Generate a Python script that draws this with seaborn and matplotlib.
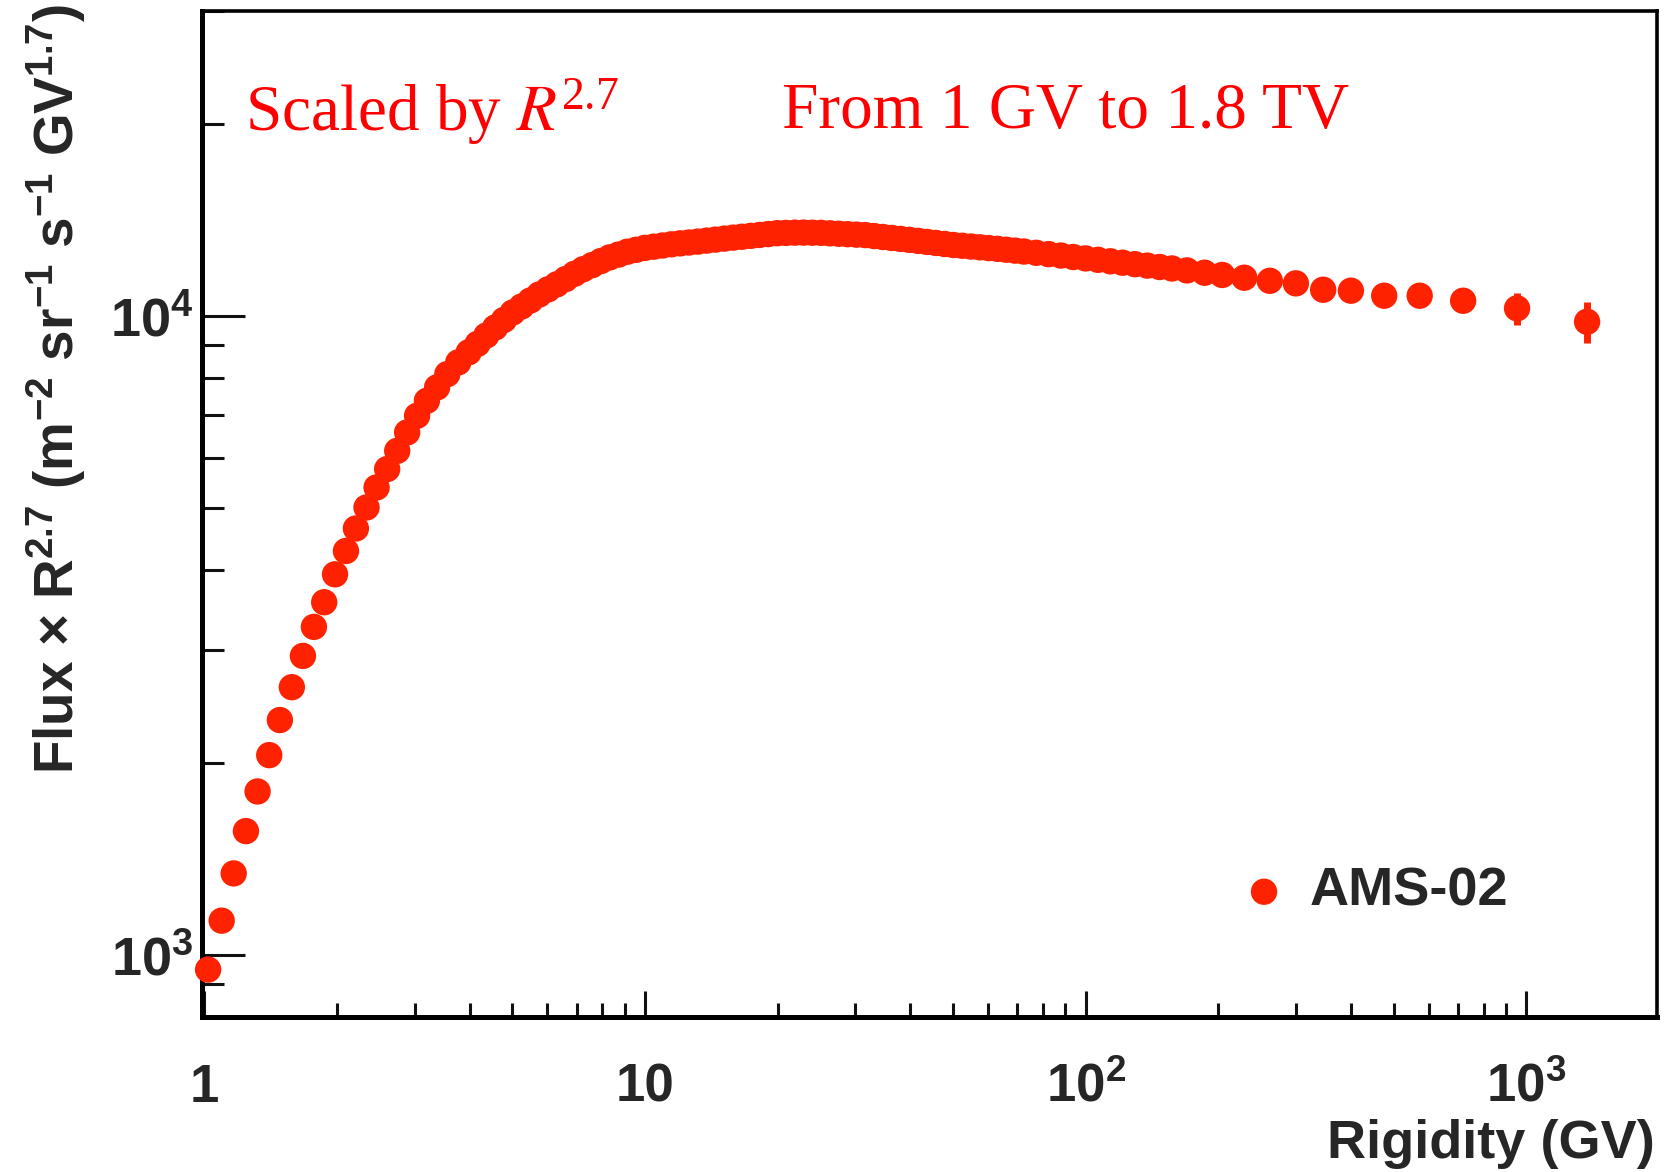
import matplotlib
matplotlib.use("Agg")
import matplotlib.pyplot as plt
import pandas as pd
import seaborn as sns
from matplotlib.ticker import FixedLocator, FixedFormatter, LogLocator, NullFormatter

# AMS-02 proton flux multiplied by R^2.7, rigidity in GV
rigidity = [
    1.02, 1.095, 1.166, 1.243, 1.321, 1.404, 1.484, 1.58, 1.674, 1.773,
    1.871, 1.98, 2.096, 2.208, 2.334, 2.46, 2.60, 2.74, 2.886, 3.04,
    3.20, 3.375, 3.56, 3.77,
    3.981, 4.169, 4.365, 4.571, 4.786, 5.012, 5.248, 5.495, 5.754, 6.026,
    6.310, 6.607, 6.918, 7.244, 7.586, 7.943, 8.318, 8.710, 9.120, 9.550,
    10.00, 10.47, 10.96, 11.48, 12.02, 12.59, 13.18, 13.80, 14.45, 15.14,
    15.85, 16.60, 17.38, 18.20, 19.05, 19.95, 20.89, 21.88, 22.91, 23.99,
    25.12, 26.30, 27.54, 28.84, 30.20, 31.62, 33.11, 34.67, 36.31, 38.02,
    39.81, 41.69, 43.65, 45.71, 47.86, 50.12, 52.48, 54.95, 57.54, 60.26,
    63.10, 66.07, 69.18, 72.44,
    77.27, 82.41, 87.90, 93.76, 100.0, 106.7, 113.8, 121.3, 129.4, 138.0,
    147.2, 157.0, 169.8, 186.2, 204.2, 229.1, 261.8,
    300, 346, 400, 476, 573, 719, 953, 1374,
]
flux_scaled = [
    949, 1132, 1342, 1563, 1803, 2055, 2332, 2625, 2938, 3262,
    3565, 3942, 4288, 4650, 5016, 5391, 5760, 6151, 6573, 6980,
    7367, 7732, 8110, 8460,
    8774, 9043, 9320, 9592, 9856, 10127, 10347, 10573, 10802, 11005,
    11207, 11421, 11639, 11836, 12010, 12187, 12349, 12474, 12604, 12691,
    12779, 12835, 12889, 12945, 12990, 13029, 13071, 13119, 13165, 13213,
    13259, 13302, 13345, 13388, 13431, 13474, 13487, 13499, 13502, 13496,
    13490, 13468, 13446, 13425, 13403, 13382, 13336, 13290, 13244, 13198,
    13153, 13105, 13056, 13008, 12960, 12912, 12877, 12841, 12806, 12770,
    12735, 12694, 12653, 12612,
    12554, 12494, 12431, 12365, 12303, 12241, 12176, 12114, 12050, 11989,
    11928, 11865, 11783, 11685, 11591, 11477, 11350,
    11246, 10990, 10952, 10756, 10756, 10563, 10278, 9793,
]
# uncertainties of the highest-rigidity points (elsewhere hidden by the markers)
n_err = 8
flux_err_high = [160, 180, 200, 230, 270, 350, 590, 720]

x_ticks = [1, 10, 100, 1000]
x_tick_labels = ["1", "10", "$10^{2}$", "$10^{3}$"]
y_ticks = [1000, 10000]
y_tick_labels = ["$10^{3}$", "$10^{4}$"]

RED = "#ff2200"

sns.set_style("ticks")
plt.rcParams["font.family"] = ["Liberation Sans", "DejaVu Sans"]
plt.rcParams["mathtext.default"] = "regular"

fig = plt.figure(figsize=(16.69, 11.72), dpi=100)
ax = fig.add_axes([0.12103, 0.13225, 0.87178, 0.85836])
ax.set_xscale("log")
ax.set_yscale("log")

df = pd.DataFrame({"Rigidity": rigidity, "Flux": flux_scaled})
sns.scatterplot(data=df, x="Rigidity", y="Flux", ax=ax, s=360, color=RED,
                edgecolor="none", linewidth=0, label="AMS-02", zorder=3,
                clip_on=False)
ax.errorbar(rigidity[-n_err:], flux_scaled[-n_err:], yerr=flux_err_high,
            fmt="none", ecolor=RED, elinewidth=5, capsize=0, zorder=2)

ax.set_xlim(0.988, 1980)
ax.set_ylim(800, 30000)

ax.xaxis.set_major_locator(FixedLocator(x_ticks))
ax.xaxis.set_major_formatter(FixedFormatter(x_tick_labels))
ax.yaxis.set_major_locator(FixedLocator(y_ticks))
ax.yaxis.set_major_formatter(FixedFormatter(y_tick_labels))
ax.xaxis.set_minor_locator(LogLocator(base=10, subs=range(2, 10), numticks=20))
ax.yaxis.set_minor_locator(LogLocator(base=10, subs=range(2, 10), numticks=20))
ax.xaxis.set_minor_formatter(NullFormatter())
ax.yaxis.set_minor_formatter(NullFormatter())

ax.tick_params(axis="both", which="both", direction="in", top=False,
               right=False, color="#111111", width=2.2)
ax.tick_params(axis="y", which="major", length=31, pad=6, labelsize=39)
ax.tick_params(axis="y", which="minor", length=16)
ax.tick_params(axis="x", which="major", length=19, pad=61, labelsize=38)
ax.tick_params(axis="x", which="minor", length=10)
for t in ax.xaxis.get_major_ticks():
    t.label1.set_verticalalignment("baseline")
    t.label1.set_fontweight("bold")
for t in ax.yaxis.get_major_ticks():
    t.label1.set_fontweight("bold")

for side in ("left", "bottom"):
    ax.spines[side].set_linewidth(3.6)
    ax.spines[side].set_color("black")
for side in ("top", "right"):
    ax.spines[side].set_linewidth(2.6)
    ax.spines[side].set_color("black")

ax.set_xlabel("")
ax.set_ylabel("")
fig.text(0.9916, 0.0119, "Rigidity (GV)", ha="right", va="baseline",
         fontsize=39, fontweight="bold")
fig.text(0.0335, 0.9966,
         "Flux × R$^{2.7}$ (m$^{-2}$ sr$^{-1}$ s$^{-1}$ GV$^{1.7}$)",
         rotation=90, ha="center", va="top", fontsize=39.5, fontweight="bold")

handles, labels = ax.get_legend_handles_labels()
ax.legend(handles[:1], labels[:1], loc="center left",
          bbox_to_anchor=(0.7113, 0.1243), frameon=False, handlelength=1.0,
          handletextpad=0.35, borderpad=0, borderaxespad=0,
          prop={"weight": "bold", "size": 39})

fig.text(0.1468, 0.889, "Scaled by $\\mathit{R}^{2.7}$", ha="left",
         va="baseline", fontsize=47, color="#ff0000", fontweight="normal",
         family="Liberation Serif", math_fontfamily="stix")
fig.text(0.4685, 0.8908, "From 1 GV to 1.8 TV", ha="left", va="baseline",
         fontsize=47, color="#ff0000", fontweight="normal",
         family="Liberation Serif")

fig.savefig("out.png", dpi=100, facecolor="white")
